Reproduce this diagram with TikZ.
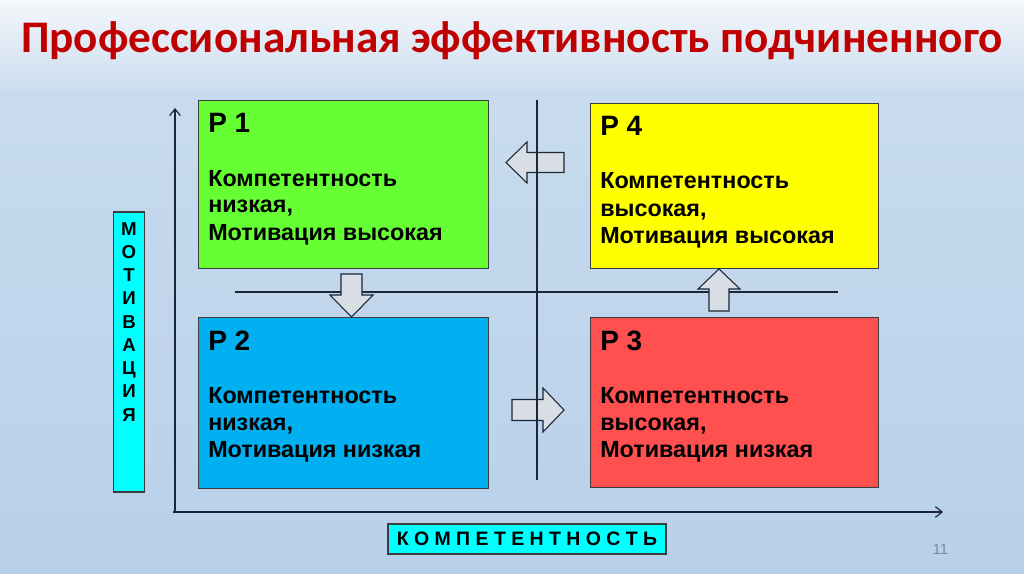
\documentclass[tikz,border=0pt]{standalone}
\usepackage{fontspec}
\setmainfont{Liberation Sans}
\newfontfamily\titlefont{Carlito}
\usetikzlibrary{arrows.meta}
\definecolor{bgtop}{RGB}{244,247,251}
\definecolor{bgmid}{RGB}{200,219,238}
\definecolor{bgbot}{RGB}{184,208,233}
\definecolor{titlered}{RGB}{192,0,0}
\definecolor{qgreen}{RGB}{102,255,51}
\definecolor{qblue}{RGB}{0,176,240}
\definecolor{qyellow}{RGB}{255,255,0}
\definecolor{qred}{RGB}{255,80,80}
\definecolor{qcyan}{RGB}{0,255,255}
\definecolor{edgegray}{RGB}{60,60,60}
\definecolor{axisnavy}{RGB}{27,38,56}
\definecolor{arrowfill}{RGB}{217,221,228}
\definecolor{pagenum}{RGB}{110,140,170}
\begin{document}
\begin{tikzpicture}[x=0.75pt,y=-0.75pt,
  quad/.style={draw=edgegray, line width=0.8pt, anchor=north west, inner sep=0pt},
  qhead/.style={anchor=base west, inner sep=0pt, font=\bfseries\fontsize{21}{24}\selectfont},
  qline/.style={anchor=base west, inner sep=0pt, font=\bfseries\fontsize{17.5}{20}\selectfont},
  blockarrow/.style={draw=axisnavy, fill=arrowfill, line width=0.8pt, line join=miter},
  axisline/.style={draw=axisnavy, line width=0.9pt},
  divline/.style={draw=axisnavy, line width=0.9pt},
  vletter/.style={anchor=base, inner sep=0pt, font=\bfseries\fontsize{14}{15}\selectfont}
]
\useasboundingbox (0,0) rectangle (1024,574);
\shade[top color=bgtop, bottom color=bgmid] (0,0) rectangle (1024,96);
\shade[top color=bgmid, bottom color=bgbot] (0,95.5) rectangle (1024,574);

% title
\node[anchor=base, inner sep=0pt, text=titlered, font=\titlefont\bfseries\fontsize{33.9}{36}\selectfont] (title) at (512,53) {Профессиональная эффективность подчиненного};

% axes
\coordinate (origin) at (175,512);
\coordinate (ytop) at (175,108);
\coordinate (xend) at (943,512);
\draw[axisline, -{Straight Barb[length=5pt,width=8pt]}] (origin) -- (ytop);
\draw[axisline, -{Straight Barb[length=5pt,width=8pt]}] (173,512) -- (xend);

% horizontal divider
\coordinate (hl) at (235,292);
\coordinate (hr) at (838,292);
\draw[divline] (hl) -- (hr);

% quadrants
\node[quad, fill=qgreen, minimum width=217.5pt, minimum height=126pt] (p1) at (198,100) {};
\node[quad, fill=qyellow, minimum width=216pt, minimum height=123.75pt] (p4) at (590,103) {};
\node[quad, fill=qblue, minimum width=217.5pt, minimum height=128.25pt] (p2) at (198,317) {};
\node[quad, fill=qred, minimum width=216pt, minimum height=127.5pt] (p3) at (590,317) {};

% P1 text
\node[qhead] (p1h) at (208,133) {Р 1};
\node[qline] (p1a) at (208,186) {Компетентность};
\node[qline] (p1b) at (208,213) {низкая,};
\node[qline] (p1c) at (208,240) {Мотивация высокая};
% P4 text
\node[qhead] (p4h) at (600,136) {Р 4};
\node[qline] (p4a) at (600,189) {Компетентность};
\node[qline] (p4b) at (600,216) {высокая,};
\node[qline] (p4c) at (600,243) {Мотивация высокая};
% P2 text
\node[qhead] (p2h) at (208,350) {Р 2};
\node[qline] (p2a) at (208,403) {Компетентность};
\node[qline] (p2b) at (208,430) {низкая,};
\node[qline] (p2c) at (208,457) {Мотивация низкая};
% P3 text
\node[qhead] (p3h) at (600,350) {Р 3};
\node[qline] (p3a) at (600,403) {Компетентность};
\node[qline] (p3b) at (600,430) {высокая,};
\node[qline] (p3c) at (600,457) {Мотивация низкая};

% block arrows
\draw[blockarrow] (564,152.5) -- (527,152.5) -- (527,142) -- (506,162.5) -- (527,183) -- (527,172.5) -- (564,172.5) -- cycle;
\draw[blockarrow] (512,399.5) -- (543,399.5) -- (543,388) -- (564,410) -- (543,432) -- (543,420.5) -- (512,420.5) -- cycle;
\draw[blockarrow] (341,274) -- (362,274) -- (362,295) -- (373,295) -- (351.5,317) -- (330,295) -- (341,295) -- cycle;
\draw[blockarrow] (709,311) -- (729,311) -- (729,289) -- (740,289) -- (719,269) -- (698,289) -- (709,289) -- cycle;

% vertical divider
\coordinate (vt) at (537,100);
\coordinate (vb) at (537,480);
\draw[divline] (vt) -- (vb);

% motivation label
\node[draw=edgegray, line width=0.8pt, fill=qcyan, minimum width=23.25pt, minimum height=210pt, inner sep=0pt] (mot) at (129,352) {};
\foreach \L [count=\i from 0] in {М,О,Т,И,В,А,Ц,И,Я}{
  \node[vletter] (m\i) at (129,235+23.25*\i) {\L};
}

% competence label
\node[draw=edgegray, line width=0.8pt, fill=qcyan, minimum width=208.5pt, minimum height=22.5pt, inner sep=0pt, font=\bfseries\fontsize{14.6}{16}\selectfont] (comp) at (527,539) {К~О~М~П~Е~Т~Е~Н~Т~Н~О~С~Т~Ь};

% page number
\node[anchor=base, inner sep=0pt, text=pagenum, font=\fontsize{11}{12}\selectfont] (pg) at (940.5,554) {11};
\end{tikzpicture}
\end{document}
